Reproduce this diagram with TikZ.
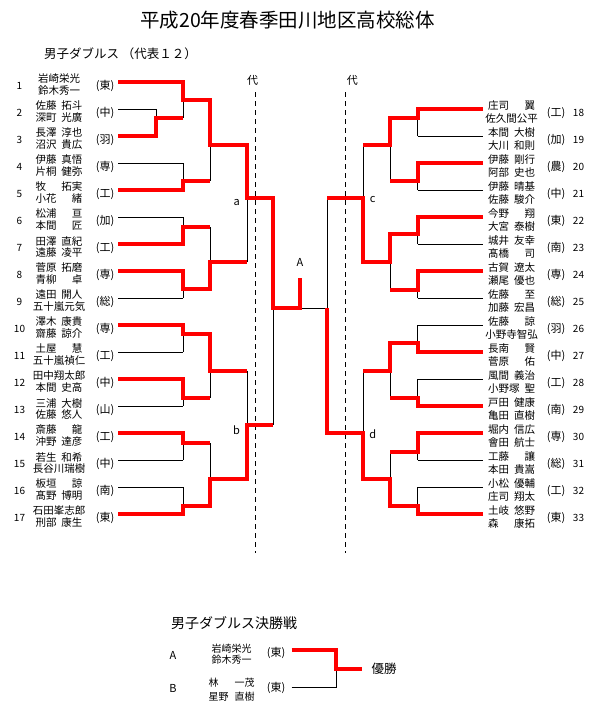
\documentclass[tikz,border=0pt]{standalone}
\usepackage{fontspec}
\setmainfont{Noto Sans CJK JP}
\definecolor{bred}{RGB}{255,0,0}
\tikzset{
  winline/.style={draw=bred, line width=4pt, line join=miter},
  bline/.style={draw=black, line width=1pt},
  dline/.style={draw=black, line width=1pt, dash pattern=on 5pt off 4pt},
  numtxt/.style={inner sep=0pt, font=\fontsize{10}{12}\selectfont},
  nametxt/.style={inner sep=0pt, font=\fontsize{10.5}{12}\selectfont},
  sctxt/.style={inner sep=0pt, font=\fontsize{11}{12}\selectfont},
  lbltxt/.style={inner sep=0pt, font=\fontsize{11}{12}\selectfont},
}
\newcommand\nm[2]{\makebox[47pt]{#1\hfill#2}}
\newcommand\lentry[5]{%
  \node[numtxt] (L#1n) at (19.5,{#2+3.7}) {#1};
  \node[nametxt] (L#1a) at (59,{#2-3}) {#3};
  \node[nametxt] (L#1b) at (59,{#2+9}) {#4};
  \node[sctxt] (L#1s) at (105,{#2+3.7}) {(#5)};
}
\newcommand\rentry[5]{%
  \node[numtxt] (R#1n) at (578.5,{#2+3.7}) {#1};
  \node[nametxt] (R#1a) at (511.5,{#2-3.3}) {#3};
  \node[nametxt] (R#1b) at (511.5,{#2+9.3}) {#4};
  \node[sctxt] (R#1s) at (556,{#2+3.7}) {(#5)};
}
\begin{document}
\begin{tikzpicture}[x=1pt,y=-1pt]
\fill[white] (0,0) rectangle (593,710);
\useasboundingbox (0,0) rectangle (593,710);

% titles
\node[inner sep=0pt, font=\fontsize{19.5}{22}\selectfont] (title) at (287.5,20) {平成20年度春季田川地区高校総体};
\node[inner sep=0pt, anchor=west, font=\fontsize{12.5}{14}\selectfont] (sub) at (44,54) {男子ダブルス （代表１２）};

% dashed lines and labels
\draw[dline] (255.3,92) -- (255.3,553);
\draw[dline] (345.3,92) -- (345.3,553);
\node[lbltxt] (dai1) at (252.7,80) {代};
\node[lbltxt] (dai2) at (352.3,80.5) {代};
\node[lbltxt] (lA) at (300,262) {A};
\node[lbltxt] (la) at (236.7,203) {a};
\node[lbltxt] (lb) at (236.5,430) {b};
\node[lbltxt] (lc) at (372.7,200) {c};
\node[lbltxt] (ld) at (372.7,434) {d};

% left entries
\lentry{1}{82}{岩崎栄光}{鈴木秀一}{東}
\lentry{2}{109}{\nm{佐藤}{拓斗}}{\nm{深町}{光廣}}{中}
\lentry{3}{136}{\nm{長澤}{淳也}}{\nm{沼沢}{貴広}}{羽}
\lentry{4}{163}{\nm{伊藤}{真悟}}{\nm{片桐}{健弥}}{専}
\lentry{5}{190}{\nm{牧}{拓実}}{\nm{小花}{緒}}{工}
\lentry{6}{217}{\nm{松浦}{亘}}{\nm{本間}{匠}}{加}
\lentry{7}{244}{\nm{田澤}{直紀}}{\nm{遠藤}{凌平}}{工}
\lentry{8}{271}{\nm{菅原}{拓磨}}{\nm{青柳}{卓}}{専}
\lentry{9}{298}{\nm{遠田}{開人}}{五十嵐元気}{総}
\lentry{10}{325}{\nm{澤木}{康貴}}{\nm{齋藤}{諒介}}{専}
\lentry{11}{352}{\nm{土屋}{慧}}{五十嵐禎仁}{工}
\lentry{12}{379}{田中翔太郎}{\nm{本間}{史高}}{中}
\lentry{13}{406}{\nm{三浦}{大樹}}{\nm{佐藤}{悠人}}{山}
\lentry{14}{433}{\nm{斎藤}{龍}}{\nm{沖野}{達彦}}{工}
\lentry{15}{460}{\nm{若生}{和希}}{長谷川瑞樹}{中}
\lentry{16}{487}{\nm{板垣}{諒}}{\nm{髙野}{博明}}{南}
\lentry{17}{514}{石田峯志郎}{\nm{刑部}{康生}}{東}

% right entries
\rentry{18}{109}{\nm{庄司}{翼}}{佐久間公平}{工}
\rentry{19}{136}{\nm{本間}{大樹}}{\nm{大川}{和則}}{加}
\rentry{20}{163}{\nm{伊藤}{剛行}}{\nm{阿部}{史也}}{農}
\rentry{21}{190}{\nm{伊藤}{晴基}}{\nm{佐藤}{駿介}}{中}
\rentry{22}{217}{\nm{今野}{翔}}{\nm{大宮}{泰樹}}{東}
\rentry{23}{244}{\nm{城井}{友幸}}{\nm{髙橋}{司}}{南}
\rentry{24}{271}{\nm{古賀}{遼太}}{\nm{瀬尾}{優也}}{専}
\rentry{25}{298}{\nm{佐藤}{至}}{\nm{加藤}{宏昌}}{総}
\rentry{26}{325}{\nm{佐藤}{諒}}{小野寺智弘}{羽}
\rentry{27}{352}{\nm{長南}{賢}}{\nm{菅原}{佑}}{中}
\rentry{28}{379}{\nm{風間}{義治}}{\nm{小野塚}{聖}}{工}
\rentry{29}{406}{\nm{戸田}{健康}}{\nm{亀田}{直樹}}{南}
\rentry{30}{433}{\nm{堀内}{信広}}{\nm{會田}{航士}}{専}
\rentry{31}{460}{\nm{工藤}{讓}}{\nm{本田}{貴嵩}}{総}
\rentry{32}{487}{\nm{小松}{優輔}}{\nm{庄司}{翔太}}{工}
\rentry{33}{514}{\nm{土岐}{悠野}}{\nm{森}{康拓}}{東}

% ---- black bracket (left)
\foreach \y in {82,163,190,217,244,271,298,325,352,379,406,433,460,487,514}
  \draw[bline] (118,\y) -- (183,\y);
\foreach \y in {109,136}
  \draw[bline] (118,\y) -- (156,\y);
\draw[bline] (156,109) -- (156,136) (156,118) -- (183,118);
\draw[bline] (183,82) -- (183,118) (183,100) -- (210,100);
\draw[bline] (183,163) -- (183,190) (183,181) -- (210,181);
\draw[bline] (210,100) -- (210,181) (210,145) -- (247,145);
\draw[bline] (183,217) -- (183,244) (183,227) -- (210,227);
\draw[bline] (183,271) -- (183,298) (183,289) -- (210,289);
\draw[bline] (210,227) -- (210,289) (210,262) -- (247,262);
\draw[bline] (247,145) -- (247,262) (247,198) -- (273,198);
\draw[bline] (183,325) -- (183,352) (183,334) -- (210,334);
\draw[bline] (183,379) -- (183,406) (183,398) -- (210,398);
\draw[bline] (210,334) -- (210,398) (210,371) -- (247,371);
\draw[bline] (183,433) -- (183,460) (183,443) -- (210,443);
\draw[bline] (183,487) -- (183,514) (183,506) -- (210,506);
\draw[bline] (210,443) -- (210,506) (210,479) -- (247,479);
\draw[bline] (247,371) -- (247,479) (247,425) -- (273,425);
\draw[bline] (273,198) -- (273,425) (273,308) -- (327,308);

% ---- black bracket (right)
\foreach \y in {109,136,163,190,217,244,271,298,325,352,379,406,433,460,487,514}
  \draw[bline] (417.7,\y) -- (483,\y);
\draw[bline] (417.7,109) -- (417.7,136) (417.7,118) -- (390,118);
\draw[bline] (417.7,163) -- (417.7,190) (417.7,181) -- (390,181);
\draw[bline] (390,118) -- (390,181) (390,145) -- (363,145);
\draw[bline] (417.7,217) -- (417.7,244) (417.7,234) -- (390,234);
\draw[bline] (417.7,271) -- (417.7,298) (417.7,290) -- (390,290);
\draw[bline] (390,234) -- (390,290) (390,262) -- (363,262);
\draw[bline] (363,145) -- (363,262) (363,198) -- (327,198);
\draw[bline] (417.7,325) -- (417.7,352) (417.7,343) -- (390,343);
\draw[bline] (417.7,379) -- (417.7,406) (417.7,398) -- (390,398);
\draw[bline] (390,343) -- (390,398) (390,371) -- (363,371);
\draw[bline] (417.7,433) -- (417.7,460) (417.7,452) -- (390,452);
\draw[bline] (417.7,487) -- (417.7,514) (417.7,506) -- (390,506);
\draw[bline] (390,452) -- (390,506) (390,479) -- (363,479);
\draw[bline] (363,371) -- (363,479) (363,433) -- (327,433);
\draw[bline] (327,198) -- (327,433);

% ---- red winner paths (left)
\draw[winline] (118,82) -- (183,82) -- (183,100) -- (210,100) -- (210,145) -- (247,145) -- (247,198) -- (273,198) -- (273,308) -- (300,308) -- (300,278);
\draw[winline] (118,136) -- (156,136) -- (156,118) -- (183,118);
\draw[winline] (118,190) -- (183,190) -- (183,181) -- (210,181);
\draw[winline] (118,244) -- (183,244) -- (183,227) -- (210,227);
\draw[winline] (118,271) -- (183,271) -- (183,289) -- (210,289) -- (210,262) -- (247,262);
\draw[winline] (118,325) -- (183,325) -- (183,334) -- (210,334) -- (210,371) -- (247,371);
\draw[winline] (118,379) -- (183,379) -- (183,398) -- (210,398);
\draw[winline] (118,433) -- (183,433) -- (183,443) -- (210,443);
\draw[winline] (118,514) -- (183,514) -- (183,506) -- (210,506) -- (210,479) -- (247,479) -- (247,425) -- (273,425);

% ---- red winner paths (right)
\draw[winline] (483,109) -- (417.7,109) -- (417.7,118) -- (390,118) -- (390,145) -- (363,145);
\draw[winline] (483,163) -- (417.7,163) -- (417.7,181) -- (390,181);
\draw[winline] (483,217) -- (417.7,217) -- (417.7,234) -- (390,234) -- (390,262) -- (363,262) -- (363,198) -- (327,198);
\draw[winline] (483,271) -- (417.7,271) -- (417.7,290) -- (390,290);
\draw[winline] (483,352) -- (417.7,352) -- (417.7,343) -- (390,343) -- (390,371) -- (363,371);
\draw[winline] (483,406) -- (417.7,406) -- (417.7,398) -- (390,398);
\draw[winline] (483,433) -- (417.7,433) -- (417.7,452) -- (390,452);
\draw[winline] (483,514) -- (417.7,514) -- (417.7,506) -- (390,506) -- (390,479) -- (363,479) -- (363,433) -- (327,433) -- (327,308);

% ---- final section
\node[inner sep=0pt, anchor=west, font=\fontsize{14}{16}\selectfont] (fintitle) at (171,623) {男子ダブルス決勝戦};
\node[lbltxt] (fA) at (173,655) {A};
\node[lbltxt] (fB) at (173,688) {B};
\node[inner sep=0pt, font=\fontsize{10}{12}\selectfont] (fA1) at (231.7,648.3) {岩崎栄光};
\node[inner sep=0pt, font=\fontsize{10}{12}\selectfont] (fA2) at (231.7,660) {鈴木秀一};
\node[inner sep=0pt, font=\fontsize{10}{12}\selectfont] (fB1) at (231.7,682.7) {\makebox[46pt]{林\hfill 一茂}};
\node[inner sep=0pt, font=\fontsize{10}{12}\selectfont] (fB2) at (231.7,696.7) {\makebox[46pt]{星野\hfill 直樹}};
\node[sctxt] (fAs) at (276,652.7) {(東)};
\node[sctxt] (fBs) at (276,687.7) {(東)};
\node[inner sep=0pt, font=\fontsize{12.5}{14}\selectfont] (champ) at (384,669) {優勝};
\draw[bline] (291.7,687.7) -- (336.7,687.7) -- (336.7,669);
\draw[winline] (291.7,650) -- (335.7,650) -- (335.7,669) -- (361.7,669);
\end{tikzpicture}
\end{document}
